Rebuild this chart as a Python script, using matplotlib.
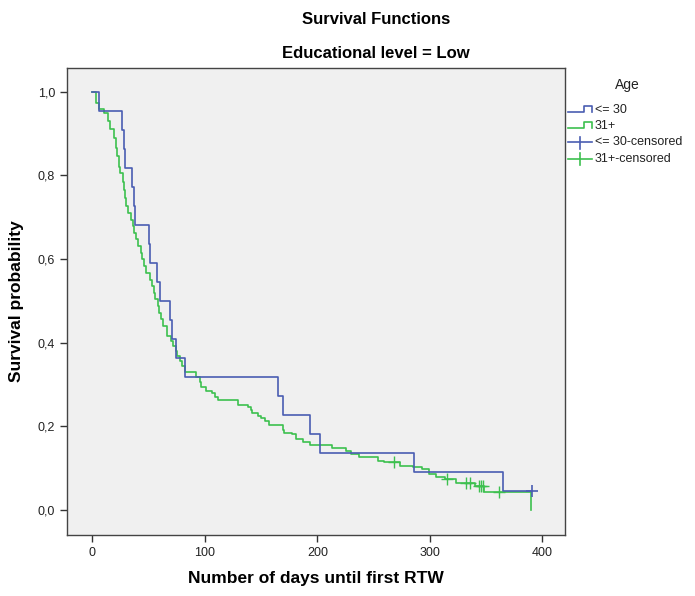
import matplotlib
matplotlib.use('Agg')
import matplotlib.pyplot as plt
from matplotlib.lines import Line2D
import numpy as np

# ---- data ----
young_times = [0, 6, 26, 28.4, 29.3, 35.2, 36.7, 38.1, 50, 50.9, 57.3, 60.3, 68.6, 70.7,
               74.5, 82.5, 165, 169.7, 193.3, 202.2, 285.6, 364.8, 391]
young_surv = [1.0, 0.955, 0.909, 0.864, 0.818, 0.773, 0.727, 0.682, 0.636, 0.591, 0.545,
              0.5, 0.455, 0.409, 0.364, 0.318, 0.273, 0.227, 0.182, 0.136, 0.091, 0.045, 0.045]
young_censor = [391]

old_times = [0, 3, 6, 10, 14, 16, 19, 21, 22, 24, 25, 27, 28, 29, 30, 32, 34, 36, 37, 39,
             41, 43, 44, 46, 48, 51, 53, 55, 56, 58, 59, 61, 63, 66, 70, 72, 74, 75, 78, 80,
             82, 92, 96, 97, 101, 106, 109, 112, 129, 138, 141, 142, 147, 150, 153, 157, 169,
             170, 177, 181, 187, 193, 213, 225, 230, 237, 254, 259, 273, 285, 293, 299, 305,
             313, 323, 340, 348, 390]
old_surv = [1.0, 0.973, 0.96, 0.95, 0.93, 0.91, 0.89, 0.865, 0.846, 0.82, 0.807, 0.785,
            0.766, 0.745, 0.726, 0.71, 0.694, 0.678, 0.663, 0.647, 0.631, 0.615, 0.599, 0.583,
            0.567, 0.551, 0.535, 0.52, 0.504, 0.488, 0.472, 0.456, 0.44, 0.416, 0.404, 0.392,
            0.38, 0.368, 0.356, 0.344, 0.329, 0.317, 0.305, 0.293, 0.285, 0.279, 0.269, 0.263,
            0.251, 0.247, 0.239, 0.233, 0.225, 0.219, 0.213, 0.204, 0.19, 0.185, 0.181, 0.169,
            0.162, 0.156, 0.147, 0.142, 0.134, 0.126, 0.118, 0.114, 0.106, 0.103, 0.098, 0.086,
            0.078, 0.074, 0.064, 0.058, 0.044, 0.0]
old_censor = [268, 315, 332, 336, 343.5, 345.6, 347, 361]

y_ticks = [0.0, 0.2, 0.4, 0.6, 0.8, 1.0]
y_tick_labels = ['0,0', '0,2', '0,4', '0,6', '0,8', '1,0']
x_ticks = [0, 100, 200, 300, 400]
legend_labels = ['<= 30', '31+', '<= 30-censored', '31+-censored']

BLUE = '#4A5DB2'
GREEN = '#3DC04F'

plt.rcParams['font.family'] = ['Liberation Sans', 'DejaVu Sans']

W, H = 695, 596
fig = plt.figure(figsize=(W / 100, H / 100), dpi=100)
fig.patch.set_facecolor('white')

L, R, T, B = 67, 565, 68, 535
ax = fig.add_axes([L / W, 1 - B / H, (R - L) / W, (B - T) / H])
ax.set_facecolor('#F0F0F0')


def step_value(times, surv, t):
    idx = np.searchsorted(times, t, side='right') - 1
    return surv[idx]


ax.step(young_times, young_surv, where='post', color=BLUE, lw=1.2, zorder=3)
ax.step(old_times, old_surv, where='post', color=GREEN, lw=1.2, zorder=2)

yc = [step_value(young_times, young_surv, t) for t in young_censor]
oc = [step_value(old_times, old_surv, t) for t in old_censor]
ax.plot(old_censor, oc, linestyle='none', marker='+', markersize=9, mew=1.0, color=GREEN, zorder=4)
ax.plot(young_censor, yc, linestyle='none', marker='+', markersize=9, mew=1.2, color=BLUE, zorder=5)

ax.set_xlim(-22.5, 420)
ax.set_ylim(-0.06, 1.057)
ax.set_yticks(y_ticks)
ax.set_yticklabels(y_tick_labels)
ax.set_xticks(x_ticks)
ax.tick_params(axis='both', direction='out', length=5, width=1, color='#333333',
               labelsize=9, labelcolor='#222222')
for s in ax.spines.values():
    s.set_color('#444444')
    s.set_linewidth(1.0)

ax.set_xlabel('Number of days until first RTW', fontsize=12.5, fontweight='bold', labelpad=9)
ax.set_ylabel('Survival probability', fontsize=12.5, fontweight='bold', labelpad=10)

fig.text(376 / W, 1 - 19 / H, 'Survival Functions', ha='center', va='center',
         fontsize=12, fontweight='bold')
fig.text(376 / W, 1 - 54 / H, 'Educational level = Low', ha='center', va='center',
         fontsize=12, fontweight='bold')


# ---- legend drawn in figure pixel coords ----
def fx(x):
    return x / W


def fy(y):
    return 1 - y / H


fig.text(fx(627), fy(85), 'Age', ha='center', va='center', fontsize=10, color='#222222')
rows = [110, 126, 142.5, 159]
colors = [BLUE, GREEN, BLUE, GREEN]
for i, (yy, c, lab) in enumerate(zip(rows, colors, legend_labels)):
    if i < 2:
        xs = [568, 584, 584, 592, 592]
        ys = [yy + 2, yy + 2, yy - 4, yy - 4, yy + 2]
        fig.add_artist(Line2D([fx(v) for v in xs], [fy(v) for v in ys], color=c, lw=1.2))
    else:
        fig.add_artist(Line2D([fx(568), fx(592)], [fy(yy), fy(yy)], color=c, lw=1.2))
        fig.add_artist(Line2D([fx(580), fx(580)], [fy(yy - 6), fy(yy + 6)], color=c, lw=1.2))
    fig.text(fx(595), fy(yy), lab, ha='left', va='center', fontsize=9, color='#222222')

fig.savefig('out.png', dpi=100)
